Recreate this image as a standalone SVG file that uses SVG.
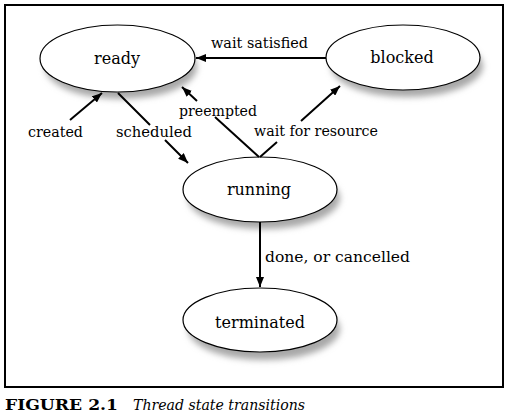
<svg xmlns="http://www.w3.org/2000/svg" width="511" height="416" viewBox="0 0 511 416">
<style>
.node{fill:#fff;stroke:#000;stroke-width:1.2}
.shadow{fill:#a8a8a8;filter:url(#blur)}
.nlabel{font-family:"DejaVu Serif","Liberation Serif",serif;font-size:16px;fill:#000;text-anchor:middle}
.elabel{font-family:"DejaVu Serif","Liberation Serif",serif;font-size:15px;fill:#000}
.edge{stroke:#000;stroke-width:2;fill:none;marker-end:url(#arrow)}
.cap{font-family:"DejaVu Serif","Liberation Serif",serif;font-size:15px;fill:#000}
</style>
<defs>
<filter id="blur" x="-20%" y="-30%" width="140%" height="160%"><feGaussianBlur stdDeviation="3"/></filter>
<marker id="arrow" viewBox="0 0 10 8" refX="10" refY="4" markerWidth="10" markerHeight="8" markerUnits="userSpaceOnUse" orient="auto"><path d="M0,0 L10,4 L0,8 Z" fill="#000"/></marker>
</defs>
<rect x="0" y="0" width="511" height="416" fill="#fff"/>
<rect x="5" y="5" width="498" height="382" fill="none" stroke="#000" stroke-width="2"/>
<g id="ready">
<ellipse class="shadow" cx="121" cy="67" rx="76" ry="32"/>
<ellipse class="node" cx="117.5" cy="58.5" rx="77.5" ry="33.5"/>
<text class="nlabel" x="117" y="64">ready</text>
</g>
<g id="blocked">
<ellipse class="shadow" cx="407" cy="66" rx="76" ry="31"/>
<ellipse class="node" cx="403" cy="57.5" rx="77" ry="32.5"/>
<text class="nlabel" x="402" y="63">blocked</text>
</g>
<g id="running">
<ellipse class="shadow" cx="264" cy="198" rx="76" ry="31"/>
<ellipse class="node" cx="260" cy="189.5" rx="77" ry="32.5"/>
<text class="nlabel" x="259" y="195">running</text>
</g>
<g id="terminated">
<ellipse class="shadow" cx="264" cy="329" rx="76" ry="31"/>
<ellipse class="node" cx="260" cy="320" rx="77" ry="32"/>
<text class="nlabel" x="260" y="328">terminated</text>
</g>
<g id="connectors">
<path class="edge" d="M326,58 L196,58"/>
<path class="edge" d="M70,120 L102,93"/>
<path class="edge" d="M118,93 L150,125 M165,140 L188,163"/>
<path class="edge" d="M259,157 L215,117 M197,101 L182,87"/>
<path class="edge" d="M260,157 L277,142 M301,121 L340,86"/>
<path class="edge" d="M260,222 L260,287"/>
<text class="elabel" x="211" y="48" textLength="97" lengthAdjust="spacingAndGlyphs">wait satisfied</text>
<text class="elabel" x="28" y="137" textLength="55" lengthAdjust="spacingAndGlyphs">created</text>
<text class="elabel" x="116" y="137" textLength="76" lengthAdjust="spacingAndGlyphs">scheduled</text>
<text class="elabel" x="179" y="116" textLength="78" lengthAdjust="spacingAndGlyphs">preempted</text>
<text class="elabel" x="254" y="136" textLength="124" lengthAdjust="spacingAndGlyphs">wait for resource</text>
<text class="elabel" x="265" y="262" textLength="145" lengthAdjust="spacingAndGlyphs">done, or cancelled</text>
</g>
<text class="cap" x="5" y="410" font-weight="bold" font-size="14" textLength="113" lengthAdjust="spacingAndGlyphs">FIGURE 2.1</text>
<text class="cap" x="133" y="410" font-style="italic" textLength="172" lengthAdjust="spacingAndGlyphs">Thread state transitions</text>
</svg>
